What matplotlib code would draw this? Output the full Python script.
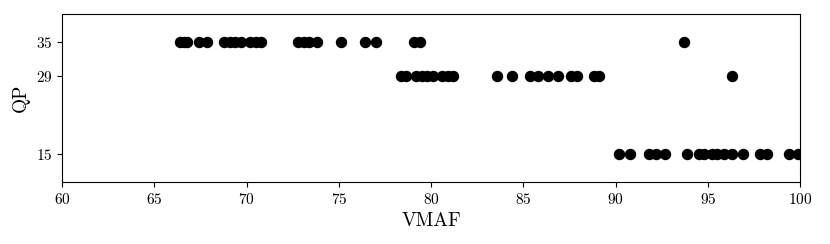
import numpy as np
import matplotlib
matplotlib.use('Agg')
import matplotlib.pyplot as plt

plt.rcParams['font.family'] = 'serif'
plt.rcParams['font.serif'] = ['cmr10']
plt.rcParams['mathtext.fontset'] = 'cm'
plt.rcParams['axes.formatter.use_mathtext'] = True

# VMAF scores per QP level
vmaf_qp35 = [66.4, 66.6, 66.8, 67.4, 67.85, 68.8, 69.1, 69.4, 69.7, 70.2, 70.5, 70.8,
             72.8, 73.1, 73.4, 73.8, 75.1, 76.4, 77.0, 79.1, 79.4, 93.7]
vmaf_qp29 = [78.35, 78.65, 79.2, 79.5, 79.8, 80.1, 80.6, 80.9, 81.2, 83.55, 84.4,
             85.35, 85.8, 86.35, 86.9, 87.6, 87.9, 88.85, 89.1, 96.3]
vmaf_qp15 = [90.2, 90.8, 91.8, 92.2, 92.7, 93.85, 94.5, 94.8, 95.2, 95.5, 95.9,
             96.3, 96.9, 97.8, 98.2, 99.4, 99.9]
qp_levels = [35, 29, 15]

fig = plt.figure(figsize=(8.3, 2.44), dpi=100)
ax = fig.add_axes([0.0747, 0.254, 0.8893, 0.689])

for qp, v in zip(qp_levels, [vmaf_qp35, vmaf_qp29, vmaf_qp15]):
	ax.scatter(v, np.full(len(v), qp), s=52, color='black', clip_on=True, zorder=3)

ax.set_xlim(60, 100)
ax.set_ylim(10, 40)
ax.set_yticks(qp_levels)
ax.set_xticks(np.arange(60, 101, 5))
ax.tick_params(labelsize=11)
ax.set_xlabel('VMAF', fontsize=14)
ax.set_ylabel('QP', fontsize=14)

fig.savefig('out.png', dpi=100)
